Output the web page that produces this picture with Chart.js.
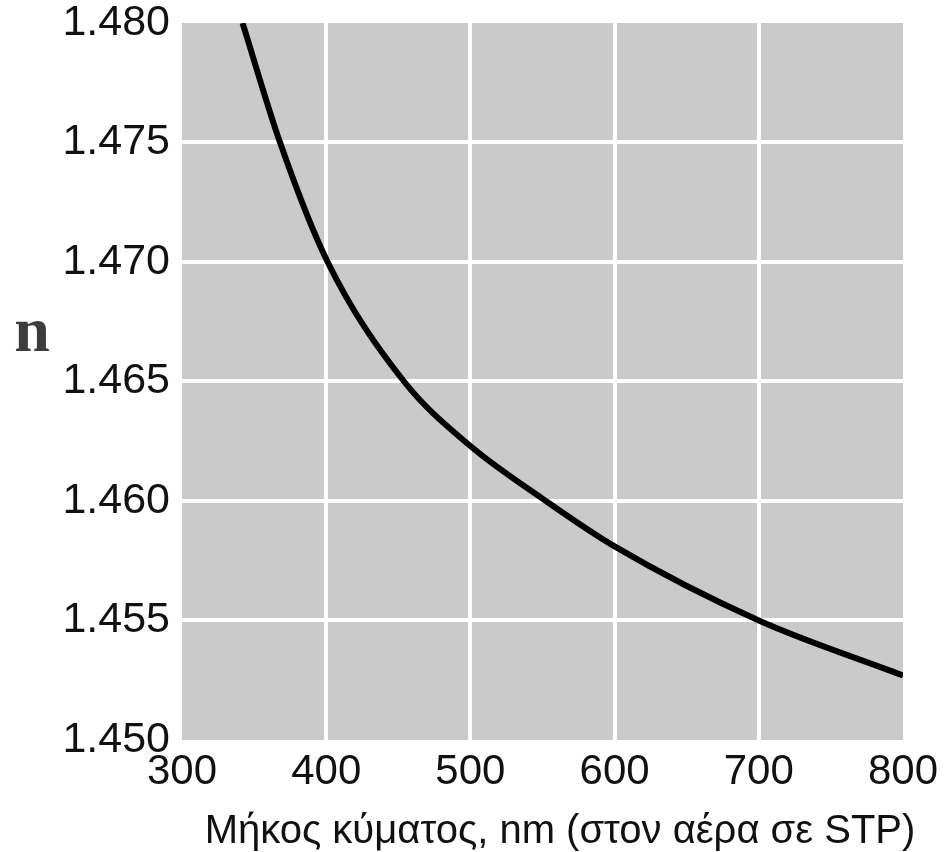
<!DOCTYPE html>
<html>
<head>
<meta charset="utf-8">
<script src="https://cdn.jsdelivr.net/npm/chart.js@4.4.1/dist/chart.umd.min.js"></script>
<style>
  html, body { margin: 0; padding: 0; background: #fff; }
  #wrap { width: 946px; height: 852px; position: relative; }
</style>
</head>
<body>
<div id="wrap"><canvas id="chart"></canvas></div>
<script>
// Data: refractive index n vs wavelength (nm)
const wavelengths = [342, 368, 401, 454, 500, 550, 600, 700, 800];
const indexValues = [1.4800, 1.4750, 1.4700, 1.4650, 1.4623, 1.4601, 1.4581, 1.4550, 1.4527];
const xTicks = [300, 400, 500, 600, 700, 800];
const yTicks = [1.450, 1.455, 1.460, 1.465, 1.470, 1.475, 1.480];

const xTitle = 'Μήκος κύματος, nm (στον αέρα σε STP)';
const yTitle = 'n';

// grey plot background + titles
const decorPlugin = {
    id: 'decor',
    beforeDraw(chart) {
        const { ctx, chartArea } = chart;
        ctx.save();
        ctx.fillStyle = '#cacaca';
        ctx.fillRect(chartArea.left, chartArea.top, chartArea.right - chartArea.left, chartArea.bottom - chartArea.top);
        ctx.restore();
    },
    afterDraw(chart) {
        const { ctx } = chart;
        ctx.save();
        ctx.fillStyle = '#3c3c3c';
        ctx.font = 'bold 64px "Liberation Serif"';
        ctx.textAlign = 'center';
        ctx.textBaseline = 'alphabetic';
        ctx.fillText(yTitle, 32, 351);
        ctx.fillStyle = '#111';
        ctx.font = '40px "Liberation Sans"';
        ctx.fillText(xTitle, 560, 843);
        ctx.restore();
    }
};

const points = wavelengths.map((w, i) => ({ x: w, y: indexValues[i] }));

new Chart(document.getElementById('chart'), {
    type: 'line',
    data: {
        datasets: [{
            data: points,
            borderColor: '#000',
            borderWidth: 6,
            pointRadius: 0,
            cubicInterpolationMode: 'monotone',
            fill: false
        }]
    },
    options: {
        responsive: true,
        maintainAspectRatio: false,
        animation: false,
        layout: { padding: { top: 23, right: 43, left: 0, bottom: 0 } },
        plugins: {
            legend: { display: false },
            tooltip: { enabled: false }
        },
        scales: {
            x: {
                type: 'linear',
                min: 300,
                max: 800,
                afterBuildTicks: axis => { axis.ticks = xTicks.map(v => ({ value: v })); },
                afterFit: axis => {
                    axis.height = 112;
                    axis.paddingLeft = 0;
                    axis.paddingRight = 0;
                },
                border: { display: false },
                grid: {
                    color: ctx => (ctx.tick && (ctx.tick.value === 300 || ctx.tick.value === 800)) ? 'rgba(0,0,0,0)' : '#fff',
                    lineWidth: 4,
                    drawTicks: false
                },
                ticks: {
                    color: '#111',
                    font: { family: 'Liberation Sans', size: 42 },
                    padding: 7,
                    maxRotation: 0,
                    callback: v => String(v)
                }
            },
            y: {
                type: 'linear',
                min: 1.450,
                max: 1.480,
                afterBuildTicks: axis => { axis.ticks = yTicks.map(v => ({ value: v })); },
                afterFit: axis => {
                    axis.width = 182;
                    axis.paddingTop = 0;
                    axis.paddingBottom = 0;
                },
                border: { display: false },
                grid: {
                    color: ctx => (ctx.tick && (ctx.tick.value === 1.450 || ctx.tick.value === 1.480)) ? 'rgba(0,0,0,0)' : '#fff',
                    lineWidth: 4,
                    drawTicks: false
                },
                ticks: {
                    color: '#111',
                    font: { family: 'Liberation Sans', size: 43 },
                    padding: 12,
                    callback: v => v.toFixed(3)
                }
            }
        }
    },
    plugins: [decorPlugin]
});
</script>
</body>
</html>
